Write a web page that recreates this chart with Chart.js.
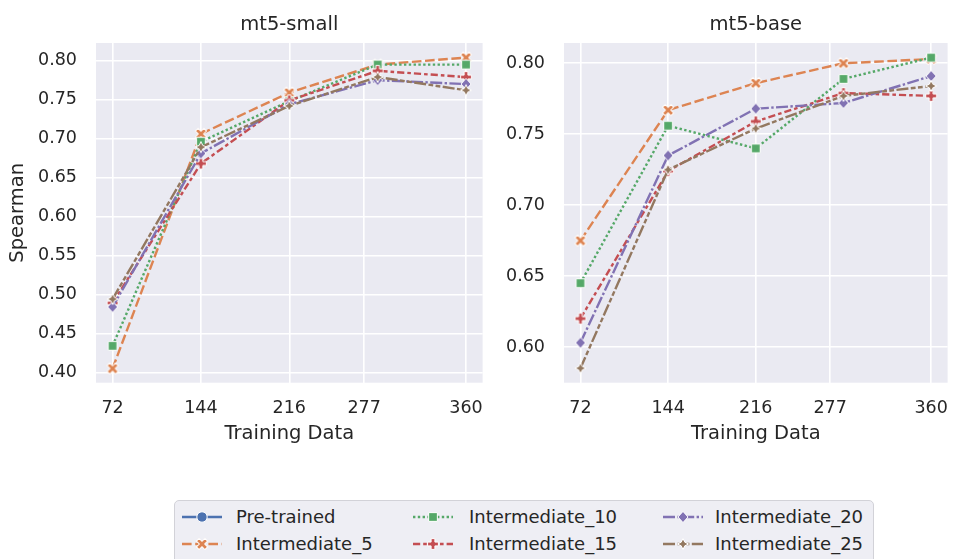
<!DOCTYPE html>
<html>
<head>
<meta charset="utf-8">
<script src="https://cdn.jsdelivr.net/npm/chart.js@4.4.1/dist/chart.umd.min.js"></script>
<style>
  body { margin: 0; background: #fff; width: 955px; height: 559px; overflow: hidden; position: relative; font-family: "DejaVu Sans"; color: #262626; }
  #small { position: absolute; left: 0; top: 0; }
  #base { position: absolute; left: 490px; top: 0; }
  #legend { position: absolute; left: 174px; top: 500px; width: 700px; height: 80px; box-sizing: border-box;
            border: 1px solid #d2d2d8; border-radius: 5px; background: #eeeef4; }
  .item { position: absolute; height: 20px; font-size: 18px; line-height: 20px; white-space: nowrap; }
  .item canvas { position: absolute; left: 0; top: -2px; }
  .item span { position: absolute; top: 0; }
</style>
</head>
<body>
<canvas id="small" width="490" height="460"></canvas>
<canvas id="base" width="465" height="460"></canvas>
<div id="legend"></div>
<script>
// training set sizes where the points sit, and the tick labels shown on the axis
const trainSizes = [72, 144, 216, 288, 360];
const xTicks = [72, 144, 216, 277, 360];

const seriesNames = ['Pre-trained', 'Intermediate_5', 'Intermediate_10', 'Intermediate_15', 'Intermediate_20', 'Intermediate_25'];
const seriesColors = ['#4c72b0', '#dd8452', '#55a868', '#c44e52', '#8172b3', '#937860'];
const seriesDashes = [[], [9.6, 3.6], [2.4, 2.4], [7.2, 3, 3.6, 3], [12, 2.4, 2.4, 2.4], [12, 2.4, 4.8, 2.4, 4.8, 2.4]];
const seriesMarkers = ['o', 'X', 's', 'P', 'D', 'star'];

// mt5-small
const smallPre = [];
const smallInt5 = [0.405, 0.706, 0.759, 0.795, 0.804];
const smallInt10 = [0.434, 0.696, 0.748, 0.795, 0.795];
const smallInt15 = [0.489, 0.668, 0.749, 0.787, 0.779];
const smallInt20 = [0.484, 0.681, 0.744, 0.775, 0.770];
const smallInt25 = [0.494, 0.689, 0.742, 0.779, 0.762];
const smallYTicks = [0.40, 0.45, 0.50, 0.55, 0.60, 0.65, 0.70, 0.75, 0.80];

// mt5-base
const basePre = [];
const baseInt5 = [0.675, 0.767, 0.786, 0.800, 0.803];
const baseInt10 = [0.645, 0.756, 0.740, 0.789, 0.804];
const baseInt15 = [0.620, 0.724, 0.759, 0.779, 0.777];
const baseInt20 = [0.603, 0.735, 0.768, 0.772, 0.791];
const baseInt25 = [0.585, 0.725, 0.754, 0.777, 0.784];
const baseYTicks = [0.60, 0.65, 0.70, 0.75, 0.80];

const textColor = '#262626';
const font = '"DejaVu Sans"';

function markerCanvas(shape, color) {
  const n = 18;
  const c = document.createElement('canvas');
  c.width = n; c.height = n;
  const g = c.getContext('2d');
  g.translate(n / 2, n / 2);
  const r = 5.6;
  g.beginPath();
  if (shape === 'o') {
    g.arc(0, 0, r - 0.4, 0, Math.PI * 2);
  } else if (shape === 's') {
    const h = r / Math.SQRT2 + 0.4;
    g.rect(-h, -h, 2 * h, 2 * h);
  } else if (shape === 'D') {
    g.moveTo(0, -r); g.lineTo(r * 0.9, 0); g.lineTo(0, r); g.lineTo(-r * 0.9, 0); g.closePath();
  } else if (shape === 'star') {
    for (let k = 0; k < 8; k++) {
      const a = k * Math.PI / 4 - Math.PI / 2;
      const rr = k % 2 ? r * 0.45 : r;
      if (k === 0) g.moveTo(rr * Math.cos(a), rr * Math.sin(a));
      else g.lineTo(rr * Math.cos(a), rr * Math.sin(a));
    }
    g.closePath();
  } else {
    // filled plus; X is the same shape turned 45 degrees
    if (shape === 'X') g.rotate(Math.PI / 4);
    const a = 1.9, b = shape === 'X' ? 6 : 5.4;
    const pts = [[-a, -b], [a, -b], [a, -a], [b, -a], [b, a], [a, a], [a, b], [-a, b], [-a, a], [-b, a], [-b, -a], [-a, -a]];
    pts.forEach((p, i) => i ? g.lineTo(p[0], p[1]) : g.moveTo(p[0], p[1]));
    g.closePath();
  }
  g.fillStyle = color;
  g.fill();
  g.strokeStyle = '#ffffff';
  g.lineWidth = 1;
  g.stroke();
  return c;
}

const markers = seriesMarkers.map((m, i) => markerCanvas(m, seriesColors[i]));

const plotBackground = {
  id: 'plotBackground',
  beforeDraw(chart) {
    const { ctx, chartArea } = chart;
    ctx.save();
    ctx.fillStyle = '#eaeaf2';
    ctx.fillRect(chartArea.left, chartArea.top, chartArea.right - chartArea.left, chartArea.bottom - chartArea.top);
    ctx.restore();
  },
  afterDraw(chart) {
    // panel title centred over the plot area
    const { ctx, chartArea } = chart;
    ctx.save();
    ctx.fillStyle = textColor;
    ctx.font = '19.5px ' + font;
    ctx.textAlign = 'center';
    ctx.textBaseline = 'middle';
    ctx.fillText(chart.options.panelTitle, (chartArea.left + chartArea.right) / 2, 25);
    ctx.restore();
  }
};

function makeChart(id, title, values, yMin, yMax, yTicks, yWidth, yTitle, rightPad) {
  const datasets = values.map((vals, i) => ({
    label: seriesNames[i],
    data: vals.map((v, j) => ({ x: trainSizes[j], y: v })),
    borderColor: seriesColors[i],
    backgroundColor: seriesColors[i],
    borderWidth: 2.4,
    borderDash: seriesDashes[i],
    pointStyle: markers[i],
    pointRadius: 5,
    tension: 0,
    order: seriesNames.length - i
  }));

  return new Chart(document.getElementById(id), {
    type: 'line',
    data: { datasets },
    plugins: [plotBackground],
    options: {
      responsive: false,
      animation: false,
      panelTitle: title,
      layout: { padding: { top: 43, right: rightPad, left: 0, bottom: 0 } },
      plugins: { legend: { display: false }, tooltip: { enabled: false } },
      scales: {
        x: {
          type: 'linear',
          min: 58.5,
          max: 373.5,
          afterBuildTicks: (scale) => { scale.ticks = xTicks.map(v => ({ value: v })); },
          afterFit: (scale) => { scale.height = 77.3; scale.paddingLeft = 0; scale.paddingRight = 0; },
          grid: { color: '#ffffff', lineWidth: 1.6, drawTicks: false },
          border: { display: false },
          ticks: { color: textColor, font: { family: font, size: 17.5 }, padding: 15, maxRotation: 0 },
          title: { display: true, text: 'Training Data', color: textColor, font: { family: font, size: 19.5 }, padding: { top: 0, bottom: 14 } }
        },
        y: {
          min: yMin,
          max: yMax,
          afterBuildTicks: (scale) => { scale.ticks = yTicks.map(v => ({ value: v })); },
          afterFit: (scale) => { scale.width = yWidth; scale.paddingTop = 0; scale.paddingBottom = 0; },
          grid: { color: '#ffffff', lineWidth: 1.6, drawTicks: false },
          border: { display: false },
          ticks: { color: textColor, font: { family: font, size: 17.5 }, padding: 19, callback: (v) => v.toFixed(2) },
          title: { display: !!yTitle, text: yTitle, color: textColor, font: { family: font, size: 19.5 }, padding: { top: 6.6, bottom: 0 } }
        }
      }
    }
  });
}

makeChart('small', 'mt5-small', [smallPre, smallInt5, smallInt10, smallInt15, smallInt20, smallInt25],
  0.3867, 0.8227, smallYTicks, 96, 'Spearman', 6);
makeChart('base', 'mt5-base', [basePre, baseInt5, baseInt10, baseInt15, baseInt20, baseInt25],
  0.5748, 0.8143, baseYTicks, 74, '', 1.5);

// legend: three columns, two rows, column-major like the original
const legend = document.getElementById('legend');
const colSample = [6, 237, 487];
const colText = [61, 294, 540];
const rowY = [5.5, 32.5];
seriesNames.forEach((name, i) => {
  const col = Math.floor(i / 2), row = i % 2;
  const item = document.createElement('div');
  item.className = 'item';
  item.style.left = colSample[col] + 'px';
  item.style.top = rowY[row] + 'px';
  const c = document.createElement('canvas');
  c.width = 42; c.height = 24;
  const g = c.getContext('2d');
  g.strokeStyle = seriesColors[i];
  g.lineWidth = 2.4;
  g.setLineDash(seriesDashes[i]);
  g.beginPath(); g.moveTo(1, 12); g.lineTo(41, 12); g.stroke();
  g.drawImage(markers[i], 21 - 9, 12 - 9);
  item.appendChild(c);
  const s = document.createElement('span');
  s.textContent = name;
  s.style.left = (colText[col] - colSample[col]) + 'px';
  item.appendChild(s);
  legend.appendChild(item);
});
</script>
</body>
</html>
